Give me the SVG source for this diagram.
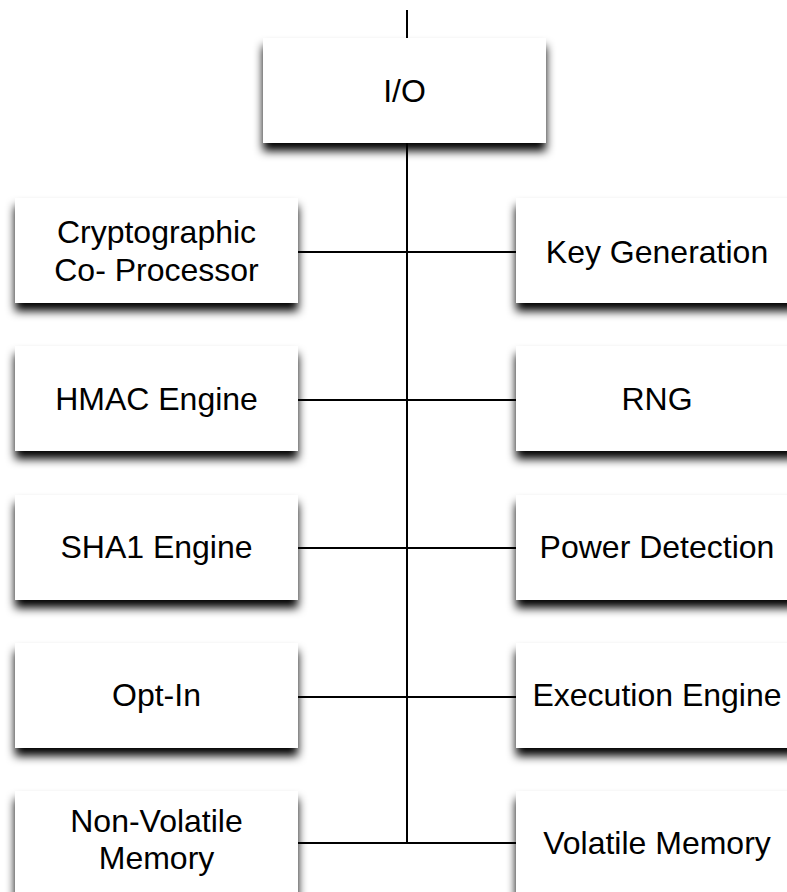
<svg xmlns="http://www.w3.org/2000/svg" width="787" height="892" viewBox="0 0 787 892">
  <defs>
    <filter id="shadow" x="-10%" y="-20%" width="120%" height="150%">
      <feDropShadow dx="0" dy="8" stdDeviation="5" flood-color="#000" flood-opacity="1"/>
    </filter>
    <style>
      .box { fill: #fff; filter: url(#shadow); }
      .label { font-family: "Liberation Sans", Arial, Helvetica, sans-serif; font-size: 32px; fill: #000; text-anchor: middle; }
      .wire { stroke: #000; stroke-width: 2; fill: none; }
    </style>
  </defs>
  <rect width="787" height="892" fill="#fff"/>

  <!-- bus and branch connectors -->
  <g id="connectors">
    <line class="wire" x1="407" y1="10" x2="407" y2="38"/>
    <line class="wire" x1="407" y1="143" x2="407" y2="843"/>
    <line class="wire" x1="298" y1="252" x2="516" y2="252"/>
    <line class="wire" x1="298" y1="400" x2="516" y2="400"/>
    <line class="wire" x1="298" y1="548" x2="516" y2="548"/>
    <line class="wire" x1="298" y1="697" x2="516" y2="697"/>
    <line class="wire" x1="298" y1="843" x2="516" y2="843"/>
  </g>

  <g id="io">
    <rect class="box" x="263" y="38" width="283" height="105"/>
    <text class="label" x="404.5" y="102">I/O</text>
  </g>

  <!-- left column -->
  <g id="crypto">
    <rect class="box" x="15" y="198" width="283" height="105"/>
    <text class="label" x="156.5" y="243">Cryptographic</text>
    <text class="label" x="156.5" y="281">Co- Processor</text>
  </g>
  <g id="hmac">
    <rect class="box" x="15" y="346" width="283" height="105"/>
    <text class="label" x="156.5" y="410">HMAC Engine</text>
  </g>
  <g id="sha1">
    <rect class="box" x="15" y="495" width="283" height="105"/>
    <text class="label" x="156.5" y="558">SHA1 Engine</text>
  </g>
  <g id="optin">
    <rect class="box" x="15" y="643" width="283" height="105"/>
    <text class="label" x="156.5" y="706">Opt-In</text>
  </g>
  <g id="nvm">
    <rect class="box" x="15" y="791" width="283" height="105"/>
    <text class="label" x="156.5" y="832">Non-Volatile</text>
    <text class="label" x="156.5" y="869">Memory</text>
  </g>

  <!-- right column -->
  <g id="keygen">
    <rect class="box" x="516" y="198" width="283" height="105"/>
    <text class="label" x="657" y="263">Key Generation</text>
  </g>
  <g id="rng">
    <rect class="box" x="516" y="346" width="283" height="105"/>
    <text class="label" x="657" y="410">RNG</text>
  </g>
  <g id="power">
    <rect class="box" x="516" y="495" width="283" height="105"/>
    <text class="label" x="657" y="558">Power Detection</text>
  </g>
  <g id="exec">
    <rect class="box" x="516" y="643" width="283" height="105"/>
    <text class="label" x="657" y="706">Execution Engine</text>
  </g>
  <g id="vm">
    <rect class="box" x="516" y="791" width="283" height="105"/>
    <text class="label" x="657" y="854">Volatile Memory</text>
  </g>
</svg>
